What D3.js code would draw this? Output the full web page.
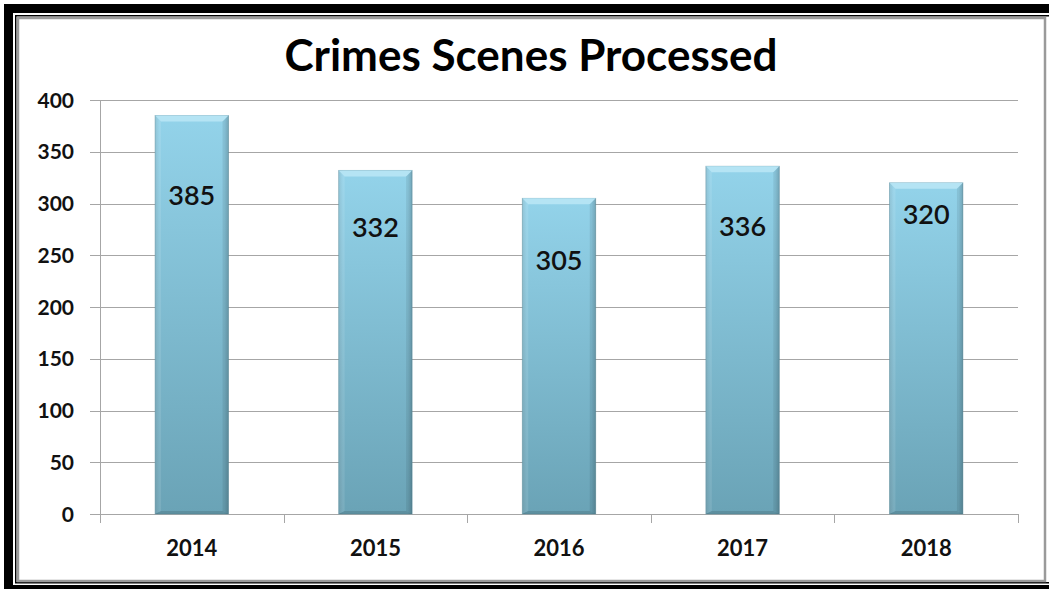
<!DOCTYPE html>
<html>
<head>
<meta charset="utf-8">
<script src="https://cdn.jsdelivr.net/npm/d3@7"></script>
<style>
  html, body { margin: 0; padding: 0; background: #ffffff; }
  svg { display: block; }
</style>
</head>
<body>
<svg id="chart" width="1049" height="593"></svg>
<script>
// ---- data ----
const categories = ["2014", "2015", "2016", "2017", "2018"];
const values = [385, 332, 305, 336, 320];
const yTicks = [0, 50, 100, 150, 200, 250, 300, 350, 400];
const title = "Crimes Scenes Processed";
// layout: vertical offset (px) of each value label below its bar top
const labelOffsetsPx = [80, 57, 62, 60, 31];

const svg = d3.select("#chart");
const W = 1049, H = 593;

// ---- frame ----
svg.append("rect").attr("x", 0).attr("y", 0).attr("width", W).attr("height", H).attr("fill", "#fff");
// thick outer black band: left and top
svg.append("rect").attr("x", 4).attr("y", 4).attr("width", 9).attr("height", 585).attr("fill", "#000");
svg.append("rect").attr("x", 4).attr("y", 4).attr("width", W - 4).attr("height", 9).attr("fill", "#000");
// bottom black band
svg.append("rect").attr("x", 4).attr("y", 585).attr("width", W - 4).attr("height", 4).attr("fill", "#000");
// thin inner black line (left, top, bottom)
svg.append("rect").attr("x", 15).attr("y", 15).attr("width", 1.5).attr("height", 568).attr("fill", "#000");
svg.append("rect").attr("x", 15).attr("y", 15).attr("width", W - 15).attr("height", 1.5).attr("fill", "#000");
svg.append("rect").attr("x", 15).attr("y", 582).attr("width", W - 15).attr("height", 1.5).attr("fill", "#000");
// gray inner line
svg.append("rect").attr("x", 18).attr("y", 18).attr("width", 1027).attr("height", 563)
  .attr("fill", "#fff").attr("stroke", "#9a9a9a").attr("stroke-width", 2.5);

// ---- scales ----
const plot = { left: 100, right: 1018, top: 100, bottom: 514 };
const x = d3.scaleBand().domain(categories).range([plot.left, plot.right]).padding(0);
const y = d3.scaleLinear().domain([0, 400]).range([plot.bottom, plot.top]);
const barW = x.bandwidth() * 0.40;

// gradients
const defs = svg.append("defs");
const g1 = defs.append("linearGradient").attr("id", "barGrad").attr("x1", 0).attr("y1", 0).attr("x2", 0).attr("y2", 1);
g1.append("stop").attr("offset", "0%").attr("stop-color", "#93d3ea");
g1.append("stop").attr("offset", "100%").attr("stop-color", "#6aa3b6");
const g2 = defs.append("linearGradient").attr("id", "sideGrad").attr("x1", 0).attr("y1", 0).attr("x2", 1).attr("y2", 0);
g2.append("stop").attr("offset", "0%").attr("stop-color", "#000").attr("stop-opacity", 0.10);
g2.append("stop").attr("offset", "6%").attr("stop-color", "#000").attr("stop-opacity", 0.0);
g2.append("stop").attr("offset", "94%").attr("stop-color", "#000").attr("stop-opacity", 0.0);
g2.append("stop").attr("offset", "100%").attr("stop-color", "#000").attr("stop-opacity", 0.14);

// ---- gridlines ----
svg.append("g").selectAll("line").data(yTicks).join("line")
  .attr("x1", plot.left - 10).attr("x2", plot.right)
  .attr("y1", d => Math.round(y(d)) + 0.5).attr("y2", d => Math.round(y(d)) + 0.5)
  .attr("stroke", "#a6a6a6").attr("stroke-width", 1);

// y axis line
svg.append("line").attr("x1", plot.left + 0.5).attr("x2", plot.left + 0.5)
  .attr("y1", plot.top).attr("y2", plot.bottom).attr("stroke", "#a6a6a6");

// x axis ticks at band boundaries
const boundaries = categories.map(c => x(c)).concat([plot.right]);
svg.append("g").selectAll("line").data(boundaries).join("line")
  .attr("x1", d => Math.round(d) + 0.5).attr("x2", d => Math.round(d) + 0.5)
  .attr("y1", plot.bottom).attr("y2", plot.bottom + 9)
  .attr("stroke", "#a6a6a6");

// y tick labels
svg.append("g").selectAll("text").data(yTicks).join("text")
  .attr("x", 74).attr("y", d => y(d))
  .attr("dy", "0.36em")
  .attr("text-anchor", "end")
  .attr("font-family", "Lato, 'Open Sans', sans-serif")
  .attr("font-weight", "bold").attr("font-size", 21)
  .attr("fill", "#111")
  .text(d => d);

// x labels
svg.append("g").selectAll("text").data(categories).join("text")
  .attr("x", d => x(d) + x.bandwidth() / 2).attr("y", 556)
  .attr("text-anchor", "middle")
  .attr("font-family", "Lato, 'Open Sans', sans-serif")
  .attr("font-weight", "bold").attr("font-size", 22)
  .attr("fill", "#111")
  .text(d => d);

// ---- bars ----
const bars = svg.append("g").selectAll("g").data(values).join("g")
  .attr("transform", (d, i) => `translate(${x(categories[i]) + x.bandwidth() / 2 - barW / 2},0)`);

bars.append("rect")
  .attr("x", 0).attr("y", d => y(d)).attr("width", barW).attr("height", d => y(0) - y(d))
  .attr("fill", "url(#barGrad)")
  .attr("stroke", "#5f93a4").attr("stroke-width", 0.8).attr("stroke-opacity", 0.6);
bars.append("rect")
  .attr("x", 0).attr("y", d => y(d)).attr("width", barW).attr("height", d => y(0) - y(d))
  .attr("fill", "url(#sideGrad)");
// bevel top cap
const bev = 6;
bars.append("path")
  .attr("d", d => `M0,${y(d)} L${barW},${y(d)} L${barW - bev},${y(d) + bev} L${bev},${y(d) + bev} Z`)
  .attr("fill", "#b9e6f5").attr("opacity", 0.9);
bars.append("path")
  .attr("d", d => `M0,${y(d)} L${bev},${y(d) + bev} L${bev},${y(0) - 3} L0,${y(0)} Z`)
  .attr("fill", "#ffffff").attr("opacity", 0.10);
bars.append("path")
  .attr("d", d => `M${barW},${y(d)} L${barW - bev},${y(d) + bev} L${barW - bev},${y(0) - 3} L${barW},${y(0)} Z`)
  .attr("fill", "#000").attr("opacity", 0.08);
bars.append("path")
  .attr("d", d => `M0,${y(0)} L${bev},${y(0) - 3} L${barW - bev},${y(0) - 3} L${barW},${y(0)} Z`)
  .attr("fill", "#000").attr("opacity", 0.12);

// value labels
bars.append("text")
  .attr("x", barW / 2)
  .attr("y", (d, i) => y(d) + labelOffsetsPx[i])
  .attr("dy", "0.36em")
  .attr("text-anchor", "middle")
  .attr("font-family", "Lato, 'Open Sans', sans-serif")
  .attr("font-weight", 600).attr("font-size", 27)
  .attr("fill", "#111")
  .text(d => d);

// ---- title ----
svg.append("text")
  .attr("x", 531).attr("y", 71)
  .attr("text-anchor", "middle")
  .attr("font-family", "Lato, 'Open Sans', sans-serif")
  .attr("font-weight", "bold").attr("font-size", 44)
  .attr("fill", "#000")
  .text(title);
</script>
</body>
</html>
